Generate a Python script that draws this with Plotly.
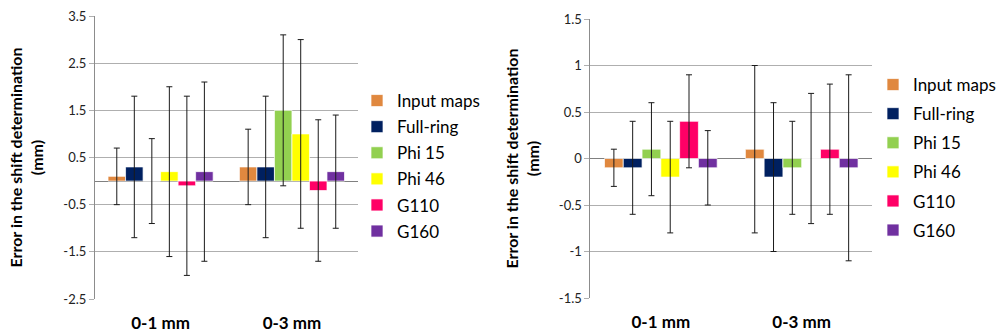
import plotly.graph_objects as go

categories = ["0-1 mm", "0-3 mm"]
series = ["Input maps", "Full-ring", "Phi 15", "Phi 46", "G110", "G160"]
colors = ["#E0883F", "#002060", "#92D050", "#FFFF00", "#FF0066", "#7030A0"]

# Left chart (mean error, error-bar half width)
left_vals = [[0.1, 0.3], [0.3, 0.3], [0.0, 1.5], [0.2, 1.0], [-0.1, -0.2], [0.2, 0.2]]
left_errs = [[0.6, 0.8], [1.5, 1.5], [0.9, 1.6], [1.8, 2.0], [1.9, 1.5], [1.9, 1.2]]
left_ticks = [3.5, 2.5, 1.5, 0.5, -0.5, -1.5, -2.5]
left_ticktext = ["3.5", "2.5", "1.5", "0.5", "-0.5", "-1.5", "-2.5"]

# Right chart
right_vals = [[-0.1, 0.1], [-0.1, -0.2], [0.1, -0.1], [-0.2, 0.0], [0.4, 0.1], [-0.1, -0.1]]
right_errs = [[0.2, 0.9], [0.5, 0.8], [0.5, 0.5], [0.6, 0.7], [0.5, 0.7], [0.4, 1.0]]
right_ticks = [1.5, 1, 0.5, 0, -0.5, -1, -1.5]
right_ticktext = ["1.5", "1", "0.5", "0", "-0.5", "-1", "-1.5"]

W, H = 1001, 334
FONT = "Lato"

fig = go.Figure()

for i, name in enumerate(series):
    fig.add_trace(go.Bar(
        x=categories, y=left_vals[i], name=name,
        marker=dict(color=colors[i], line=dict(color="rgba(255,255,255,0.7)", width=1)),
        error_y=dict(type="data", array=left_errs[i], color="#1a1a1a", thickness=1, width=3),
        xaxis="x", yaxis="y", legend="legend", legendgroup="L" + name,
    ))
for i, name in enumerate(series):
    fig.add_trace(go.Bar(
        x=categories, y=right_vals[i], name=name,
        marker=dict(color=colors[i], line=dict(color="rgba(255,255,255,0.7)", width=1)),
        error_y=dict(type="data", array=right_errs[i], color="#1a1a1a", thickness=1, width=3),
        xaxis="x2", yaxis="y2", legend="legend2", legendgroup="R" + name,
    ))

grid = "#AFAFAF"
title_txt = "<b>Error in the shift determination<br>(mm)</b>"

def yax(domain_x, rng, tv, tt, anchor):
    return dict(
        domain=domain_x, range=rng, tickvals=tv, ticktext=tt, anchor=anchor,
        automargin=False,
        showgrid=True, gridcolor=grid, gridwidth=1,
        zeroline=True, zerolinecolor="#808080", zerolinewidth=1,
        showline=True, linecolor="#8C8C8C", linewidth=1,
        ticks="outside", ticklen=5, tickcolor=grid,
        tickfont=dict(family=FONT, size=13, color="#222"),
        title=dict(text=title_txt, font=dict(family=FONT, size=16, color="#000")),
    )

def xax(domain, anchor):
    return dict(
        domain=domain, anchor=anchor, showgrid=False, zeroline=False, showline=False,
        automargin=False,
        ticks="", tickfont=dict(family=FONT, size=17, color="#000", weight="bold"),
        ticklabelstandoff=12,
    )

fig.update_layout(
    width=W, height=H, margin=dict(l=0, r=0, t=0, b=0),
    paper_bgcolor="white", plot_bgcolor="white",
    barmode="group", bargap=0.2, bargroupgap=0,
    xaxis=xax([95 / W, 358 / W], "y"),
    yaxis=yax([1 - 299 / H, 1 - 16 / H], [-2.5, 3.5], left_ticks, left_ticktext, "x"),
    xaxis2=xax([591 / W, 873 / W], "y2"),
    yaxis2=yax([1 - 298 / H, 1 - 19 / H], [-1.5, 1.5], right_ticks, right_ticktext, "x2"),
    legend=dict(x=357 / W, y=1 - 83 / H, xanchor="left", yanchor="top",
                font=dict(family=FONT, size=17, color="#000"),
                tracegroupgap=1, bgcolor="rgba(0,0,0,0)"),
    legend2=dict(x=874 / W, y=1 - 67 / H, xanchor="left", yanchor="top",
                 font=dict(family=FONT, size=17, color="#000"),
                 tracegroupgap=4, bgcolor="rgba(0,0,0,0)"),
    showlegend=True,
)

fig.write_html("out.html", config={"displayModeBar": False},
               post_script="document.body.style.margin='0';document.body.style.overflow='hidden';")
